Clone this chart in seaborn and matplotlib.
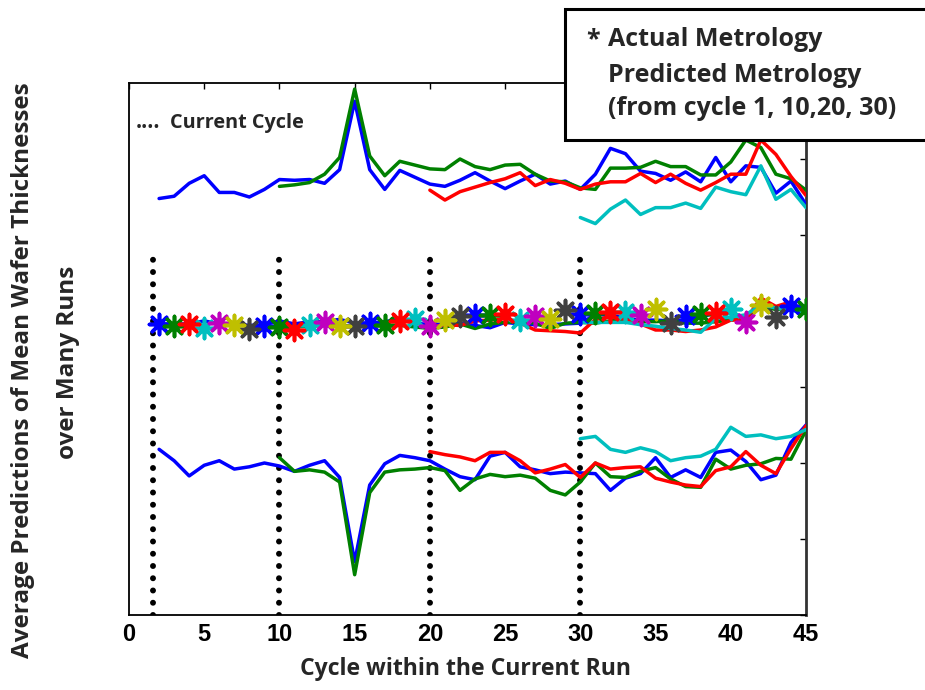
import numpy as np
import pandas as pd
import matplotlib
matplotlib.use("Agg")
import matplotlib.pyplot as plt
import seaborn as sns
from matplotlib.patches import Rectangle

# ---------------------------------------------------------------- data
cycles = list(range(2, 46))

# predictions of the upper wafer-thickness band, started at cycle 1, 10, 20, 30
upper_from1 = [5.48, 5.51, 5.68, 5.78, 5.56, 5.56, 5.50, 5.60, 5.73, 5.72, 5.73,
               5.68, 5.86, 6.76, 5.86, 5.60, 5.85, 5.76, 5.67, 5.64, 5.72, 5.82,
               5.71, 5.61, 5.71, 5.80, 5.67, 5.71, 5.60, 5.80, 6.14, 6.07, 5.84,
               5.81, 5.72, 5.83, 5.70, 6.02, 5.70, 5.91, 5.89, 5.55, 5.71, 5.40]
upper_from10 = [5.64, 5.66, 5.69, 5.80, 6.02, 6.92, 6.04, 5.78, 5.97, 5.92,
                5.87, 5.86, 6.00, 5.90, 5.86, 5.92, 5.93, 5.80, 5.71, 5.70,
                5.62, 5.60, 5.88, 5.88, 5.89, 5.97, 5.90, 5.90, 5.79, 5.79,
                5.96, 6.25, 6.15, 5.80, 5.74, 5.59]
upper_from20 = [5.59, 5.46, 5.57, 5.63, 5.69, 5.74, 5.82, 5.65, 5.73, 5.68,
                5.60, 5.67, 5.70, 5.70, 5.81, 5.69, 5.80, 5.68, 5.59, 5.69,
                5.80, 5.80, 6.25, 6.06, 5.77, 5.52]
upper_from30 = [5.23, 5.15, 5.34, 5.46, 5.27, 5.36, 5.36, 5.42, 5.35, 5.63,
                5.57, 5.53, 5.91, 5.47, 5.60, 5.36]

# predictions of the middle band
mid_from1 = [3.83, 3.83, 3.83, 3.87, 3.83, 3.83, 3.81, 3.82, 3.87, 3.83, 3.86,
             3.86, 3.89, 3.84, 3.84, 3.86, 3.89, 3.84, 3.82, 3.83, 3.84, 3.81,
             3.78, 3.85, 3.83, 3.82, 3.82, 3.83, 3.84, 3.95, 3.95, 3.90, 3.88,
             3.88, 3.87, 3.88, 3.91, 3.99, 3.97, 3.92, 4.04, 4.04, 4.12, 3.97]
mid_from10 = [3.82, 3.79, 3.80, 3.81, 3.80, 3.80, 3.81, 3.80, 3.81, 3.79,
              3.77, 3.79, 3.83, 3.77, 3.83, 3.85, 3.86, 3.84, 3.77, 3.84,
              3.85, 3.84, 3.87, 3.88, 3.86, 3.86, 3.87, 3.84, 3.84, 3.86,
              3.88, 3.91, 4.06, 4.02, 4.04, 3.97]
mid_from20 = [3.79, 3.82, 3.81, 3.87, 3.88, 3.90, 3.84, 3.75, 3.74, 3.73,
              3.71, 3.89, 3.92, 3.89, 3.83, 3.75, 3.75, 3.73, 3.75, 3.79,
              3.88, 3.89, 4.17, 4.06, 4.12, 3.97]
mid_from30 = [3.85, 3.85, 3.85, 3.85, 3.82, 3.80, 3.77, 3.75, 3.72, 3.90,
              3.92, 3.95, 4.08, 4.04, 4.01, 3.97]

# measured metrology, one value per cycle
actual = [3.83, 3.80, 3.83, 3.78, 3.84, 3.81, 3.76, 3.80, 3.79, 3.75, 3.81,
          3.85, 3.80, 3.80, 3.84, 3.82, 3.87, 3.89, 3.80, 3.88, 3.93, 3.95,
          3.95, 3.96, 3.88, 3.93, 3.90, 4.01, 3.96, 3.97, 3.99, 3.99, 3.95,
          4.02, 3.84, 3.93, 3.96, 3.98, 4.03, 3.85, 4.08, 3.92, 4.07, 4.03]

# predictions of the lower band
low_from1 = [2.18, 2.03, 1.83, 1.97, 2.03, 1.92, 1.95, 2.00, 1.96, 1.89, 1.97,
             2.03, 1.81, 0.70, 1.71, 1.99, 2.10, 2.07, 2.03, 1.92, 1.82, 1.78,
             2.09, 2.14, 1.95, 1.91, 1.86, 1.88, 1.87, 1.86, 1.64, 1.80, 1.86,
             2.07, 1.81, 1.91, 1.81, 2.14, 2.17, 2.02, 1.78, 1.84, 2.27, 2.50]
low_from10 = [2.07, 1.89, 1.91, 1.88, 1.75, 0.53, 1.61, 1.88, 1.91, 1.92,
              1.94, 1.90, 1.64, 1.79, 1.85, 1.82, 1.84, 1.80, 1.64, 1.58,
              1.75, 2.00, 1.82, 1.81, 1.89, 1.94, 1.79, 1.69, 1.68, 2.05,
              1.92, 1.97, 1.99, 2.06, 2.05, 2.43]
low_from20 = [2.15, 2.11, 2.08, 2.03, 2.14, 2.14, 2.03, 1.87, 1.92, 1.98,
              1.81, 2.00, 1.92, 1.94, 1.95, 1.80, 1.75, 1.71, 1.69, 1.90,
              1.95, 2.15, 1.97, 1.86, 2.19, 2.49]
low_from30 = [2.32, 2.35, 2.18, 2.14, 2.20, 2.15, 2.03, 2.07, 2.09, 2.18,
              2.47, 2.35, 2.37, 2.32, 2.35, 2.44]

start_cycles = [1, 10, 20, 30]
current_cycle_marks = [1.6, 10, 20, 30]
x_ticks = [0, 5, 10, 15, 20, 25, 30, 35, 40, 45]

# ---------------------------------------------------------------- style
start_colors = {1: "#0000ff", 10: "#008000", 20: "#ff0000", 30: "#00bfbf"}
marker_cycle = ["#0000ff", "#008000", "#ff0000", "#00bfbf",
                "#bf00bf", "#bfbf00", "#404040"]

sns.set_style("white")
TEXT_FONT = ["Open Sans", "DejaVu Sans"]
plt.rcParams["font.family"] = TEXT_FONT
plt.rcParams["font.weight"] = "bold"

fig = plt.figure(figsize=(9.25, 6.9), dpi=100)
ax = fig.add_axes([129 / 925, 75 / 690, 677 / 925, 532 / 690])


def series_frame(values, start):
    first = max(start, 2)
    xs = list(range(first, first + len(values)))
    return pd.DataFrame({"cycle": xs, "value": values, "start": start})


bands = [
    [upper_from1, upper_from10, upper_from20, upper_from30],
    [mid_from1, mid_from10, mid_from20, mid_from30],
    [low_from1, low_from10, low_from20, low_from30],
]
frames = []
for b, band in enumerate(bands):
    for start, vals in zip(start_cycles, band):
        f = series_frame(vals, start)
        f["band"] = b
        frames.append(f)
df = pd.concat(frames, ignore_index=True)

# current-cycle markers as dotted vertical lines
for xc in current_cycle_marks:
    ax.plot([xc, xc], [0, 4.7], color="black", lw=4.3,
            linestyle=(0, (0.001, 2.05)), dash_capstyle="round", zorder=1)

for b in range(3):
    sub = df[df["band"] == b]
    sns.lineplot(data=sub, x="cycle", y="value", hue="start",
                 palette=start_colors, estimator=None, units="start",
                 lw=2.5, legend=False, ax=ax, zorder=3)

act = pd.DataFrame({"cycle": cycles, "value": actual})
act["colour"] = [marker_cycle[i % 7] for i in range(len(cycles))]
for colour, grp in act.groupby("colour"):
    ax.scatter(grp["cycle"], grp["value"], marker=(8, 2, 0), s=210,
               color=colour, linewidths=2.6, zorder=4)

# ---------------------------------------------------------------- axes
ax.set_xlim(0, 45)
ax.set_ylim(0, 7)
ax.set_xticks(x_ticks)
ax.set_yticks(range(8))
ax.set_yticklabels([])
ax.set_xticklabels([str(t) for t in x_ticks],
                   fontdict={"family": ["Liberation Sans", "DejaVu Sans"],
                             "weight": "bold", "size": 17})
ax.tick_params(direction="in", top=True, right=True, length=4, width=1,
               colors="black", pad=6)
ax.set_xlabel("")
ax.set_ylabel("")
for side in ["left", "bottom", "right", "top"]:
    ax.spines[side].set_visible(True)
    ax.spines[side].set_color("black")
    ax.spines[side].set_linewidth(1.3)
ax.spines["right"].set_color("#333333")
ax.spines["right"].set_linewidth(2.0)

ax.text(136 / 925, 1 - 128 / 690, "....", transform=fig.transFigure,
        fontsize=15, fontweight="bold", va="baseline", ha="left")
ax.text(170 / 925, 1 - 128 / 690, "Current Cycle", transform=fig.transFigure,
        fontsize=14.3, fontweight="bold", va="baseline", ha="left")

fig.text(466 / 925, 1 - 669 / 690, "Cycle within the Current Run",
         fontsize=16.6, fontweight="bold", ha="center", va="center")
fig.text(23 / 925, 1 - 370 / 690, "Average Predictions of Mean Wafer Thicknesses",
         fontsize=17.5, fontweight="bold", ha="center", va="center", rotation=90)
fig.text(68 / 925, 1 - 362 / 690, "over Many Runs",
         fontsize=17.5, fontweight="bold", ha="center", va="center", rotation=90)

# legend box
fig.add_artist(Rectangle((565 / 925, 1 - 140 / 690), 400 / 925, 131 / 690,
                         transform=fig.transFigure, facecolor="white",
                         edgecolor="black", lw=2.2, zorder=10))
fig.text(586 / 925, 1 - 46 / 690, "*", fontsize=18, fontweight="bold",
         va="baseline", ha="left", zorder=11)
fig.text(608 / 925, 1 - 46 / 690, "Actual Metrology", fontsize=18,
         fontweight="bold", va="baseline", ha="left", zorder=11)
fig.text(608 / 925, 1 - 82 / 690, "Predicted Metrology", fontsize=18,
         fontweight="bold", va="baseline", ha="left", zorder=11)
fig.text(608 / 925, 1 - 115 / 690, "(from cycle 1, 10,20, 30)", fontsize=18,
         fontweight="bold", va="baseline", ha="left", zorder=11)

fig.savefig("out.png", dpi=100)
